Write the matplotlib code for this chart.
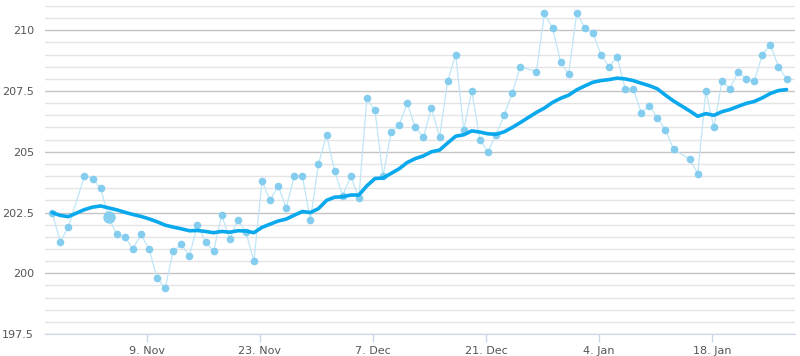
import numpy as np
import pandas as pd
import matplotlib
matplotlib.use("Agg")
import matplotlib.pyplot as plt
import matplotlib.dates as mdates
from matplotlib.ticker import MultipleLocator, FuncFormatter

# day offsets from 9 Nov (a few days are missing in the series)
day_offset = [-12, -11, -10, -8, -7, -6, -5, -4, -3, -2, -1, 0, 1, 2, 3, 4, 5, 6,
              7, 8, 9, 10, 11, 12, 13, 14, 15, 16, 17, 18, 19, 20, 21, 22, 23, 24,
              25, 26, 27, 28, 29, 30, 31, 32, 33, 34, 35, 36, 37, 38, 39, 40, 41, 42,
              43, 44, 45, 46, 48, 49, 50, 51, 52, 53, 54, 55, 56, 57, 58, 59, 60, 61,
              62, 63, 64, 65, 67, 68, 69, 70, 71, 72, 73, 74, 75, 76, 77, 78, 79]

price = [202.5, 201.3, 201.9, 204.0, 203.9, 203.5, 202.3, 201.6, 201.5, 201.0, 201.6, 201.0,
         199.8, 199.4, 200.9, 201.2, 200.7, 202.0, 201.3, 200.9, 202.4, 201.4, 202.2, 201.7,
         200.5, 203.8, 203.0, 203.6, 202.7, 204.0, 204.0, 202.2, 204.5, 205.7, 204.2, 203.2,
         204.0, 203.1, 207.2, 206.7, 204.0, 205.8, 206.1, 207.0, 206.0, 205.6, 206.8, 205.6,
         207.9, 209.0, 205.9, 207.5, 205.5, 205.0, 205.7, 206.5, 207.4, 208.5, 208.3, 210.7,
         210.1, 208.7, 208.2, 210.7, 210.1, 209.9, 209.0, 208.5, 208.9, 207.6, 207.6, 206.6,
         206.9, 206.4, 205.9, 205.1, 204.7, 204.1, 207.5, 206.0, 207.9, 207.6, 208.3, 208.0,
         207.9, 209.0, 209.4, 208.5, 208.0]

trend = [202.50, 202.38, 202.33, 202.62, 202.72, 202.77, 202.69, 202.61, 202.51, 202.42, 202.34,
         202.24, 202.12, 201.98, 201.90, 201.83, 201.75, 201.76, 201.72, 201.67, 201.72, 201.69,
         201.75, 201.74, 201.67, 201.89, 202.02, 202.15, 202.23, 202.39, 202.54, 202.50, 202.66,
         203.00, 203.13, 203.15, 203.22, 203.22, 203.60, 203.90, 203.92, 204.11, 204.30, 204.56,
         204.72, 204.83, 205.00, 205.07, 205.36, 205.64, 205.70, 205.86, 205.81, 205.74, 205.72,
         205.82, 206.00, 206.20, 206.62, 206.80, 207.03, 207.20, 207.33, 207.55, 207.71, 207.86,
         207.93, 207.97, 208.03, 208.00, 207.93, 207.82, 207.72, 207.59, 207.33, 207.09, 206.68,
         206.46, 206.57, 206.50, 206.65, 206.74, 206.87, 206.99, 207.07, 207.22, 207.40, 207.52,
         207.56]

highlight_day = -5  # hovered point, drawn bigger

base = pd.Timestamp("2023-11-09")
# samples are stamped a few hours after midnight
dates = [base + pd.Timedelta(hours=6) + pd.Timedelta(days=d) for d in day_offset]

fig = plt.figure(figsize=(8, 3.56), dpi=100)
ax = fig.add_axes([45 / 800, 22 / 356, 750 / 800, 328 / 356])

ax.plot(dates, price, color="#bfe6f7", lw=0.9, zorder=2)
ax.plot(dates, price, ls="none", marker="o", ms=5.5, mfc="#7fcbee", mec="none", alpha=0.95, zorder=3)
hi = day_offset.index(highlight_day)
ax.plot([dates[hi]], [price[hi]], ls="none", marker="o", ms=9, mfc="#86cfef", mec="none", zorder=4)
ax.plot(dates, trend, color="#0aa8ec", lw=2.6, solid_capstyle="round", solid_joinstyle="round", zorder=5)

ax.set_xlim(base - pd.Timedelta(days=12.64), base + pd.Timedelta(days=80.3))
ax.set_ylim(197.5, 211)

ticks = [base + pd.Timedelta(days=14 * i) for i in range(6)]
ax.set_xticks(ticks)
ax.xaxis.set_major_formatter(FuncFormatter(lambda v, p: f"{mdates.num2date(v).day}. {mdates.num2date(v).strftime('%b')}"))
ax.yaxis.set_major_locator(MultipleLocator(2.5))
ax.yaxis.set_minor_locator(MultipleLocator(0.5))
ax.yaxis.set_major_formatter(FuncFormatter(lambda v, p: f"{v:g}"))

ax.grid(axis="y", which="major", color="#c4c4c4", lw=1.0, zorder=0)
ax.grid(axis="y", which="minor", color="#e4e4e4", lw=1.0, zorder=0)
ax.set_axisbelow(True)

for s in ["top", "right", "left"]:
    ax.spines[s].set_visible(False)
ax.spines["bottom"].set_color("#ccd6eb")
ax.tick_params(axis="x", colors="#ccd6eb", length=6, width=1, labelcolor="#555555", labelsize=8, pad=3)
ax.tick_params(axis="y", which="both", length=0, labelcolor="#555555", labelsize=8, pad=8)

fig.savefig("out.png", dpi=100)
